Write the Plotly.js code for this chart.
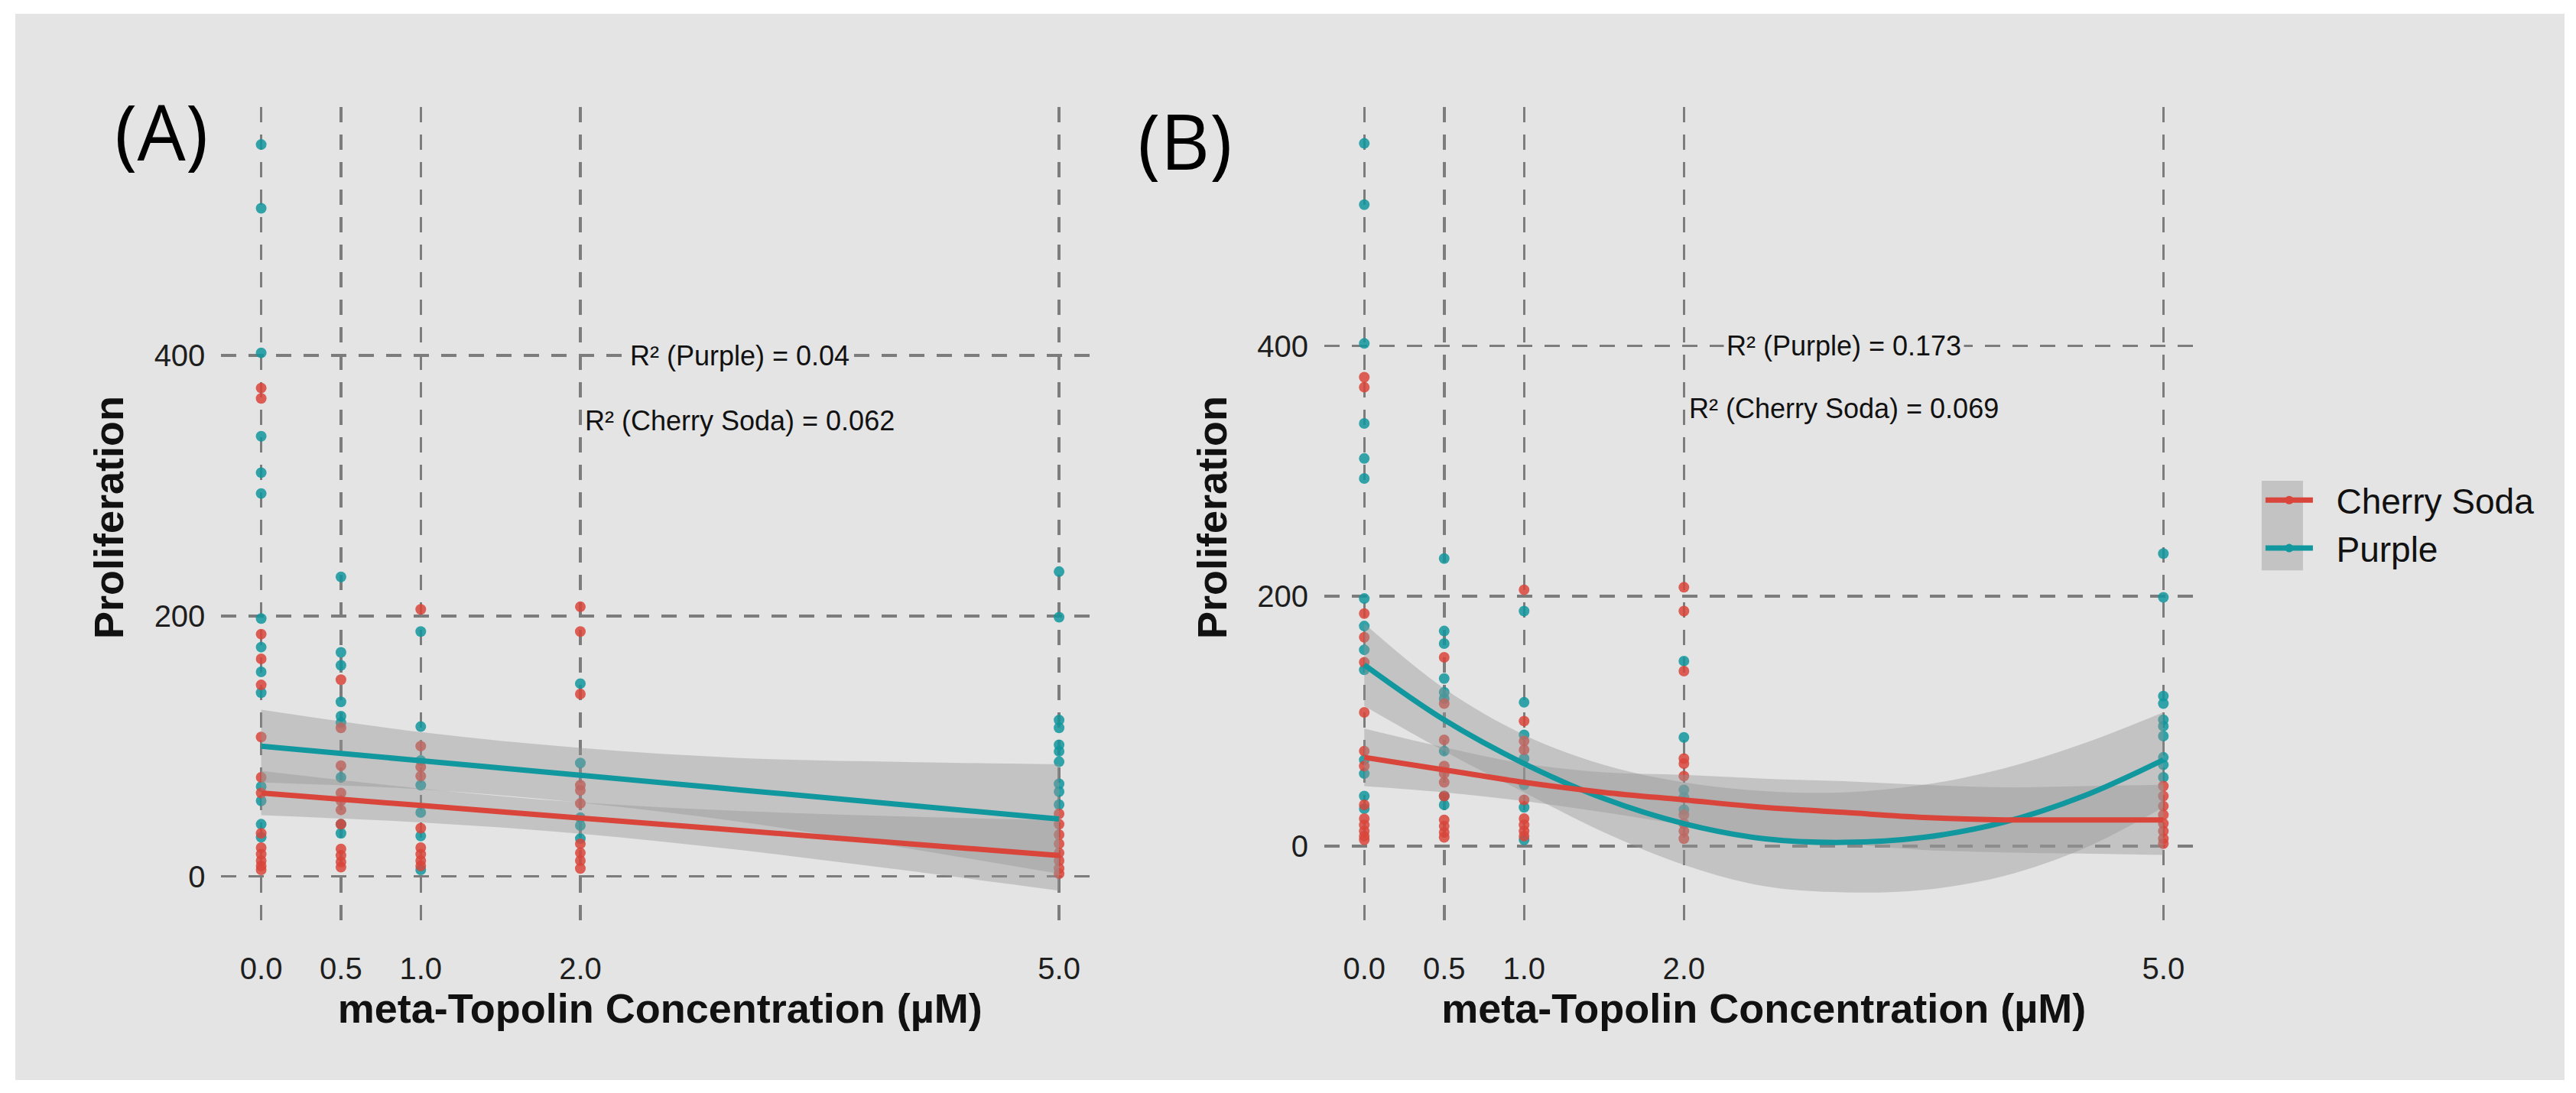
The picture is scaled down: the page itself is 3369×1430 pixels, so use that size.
<!DOCTYPE html>
<html>
<head>
<meta charset="utf-8">
<script src="https://cdn.plot.ly/plotly-3.0.1.min.js"></script>
<style>
  html, body { margin: 0; padding: 0; background: #ffffff; width: 3369px; height: 1430px; overflow: hidden; }
  #chart { position: absolute; left: 20px; top: 18px; width: 3334px; height: 1395px; }
</style>
</head>
<body>
<div id="chart"></div>
<script>
// ---- categories / ticks ----
const xTickVals = [0, 0.5, 1, 2, 5];
const xTickText = ['0.0', '0.5', '1.0', '2.0', '5.0'];
const yTickVals = [0, 200, 400];
const yTickText = ['0', '200', '400'];
const seriesNames = ['Cherry Soda', 'Purple'];

// ---- observed points (Proliferation) per concentration ----
const purple_0   = [562, 513, 402, 338, 310, 294, 198, 176, 157, 141, 69, 58, 40, 30];
const purple_05  = [230, 172, 162, 134, 123, 118, 76, 40, 33];
const purple_1   = [188, 115, 89, 70, 49, 31, 5];
const purple_2   = [148, 87, 45, 39, 29];
const purple_5   = [234, 199, 120, 114, 101, 96, 88, 71, 65, 55];

const cherry_0   = [375, 367, 186, 167, 147, 107, 76, 64, 33, 22, 17, 12, 8, 5];
const cherry_05  = [151, 114, 85, 64, 58, 51, 40, 21, 16, 11, 7];
const cherry_1   = [205, 100, 84, 77, 37, 22, 17, 12, 8];
const cherry_2   = [207, 188, 140, 70, 66, 56, 25, 18, 12, 6];
const cherry_5   = [48, 40, 32, 25, 18, 12, 6, 2];

// ---- fitted curves ----
// Panel A: linear fits
const fitGridA    = [0, 1, 2, 3, 4, 5];
const purpleFitA  = [100, 88.8, 77.6, 66.4, 55.2, 44];
const purpleUpA   = [128, 110.8, 98.6, 90.9, 87.9, 86];
const purpleLoA   = [72, 66.8, 56.6, 41.9, 22.5, 2];
const cherryFitA  = [64, 54.4, 44.8, 35.2, 25.6, 16];
const cherryUpA   = [81, 67.4, 56.8, 50.2, 46.1, 43];
const cherryLoA   = [47, 41.4, 32.8, 20.2, 5.1, -11];

// Panel B: quadratic fits
const fitGridB    = [0, 0.5, 1, 1.5, 2, 2.5, 3, 3.5, 4, 4.5, 5];
const purpleFitB  = [145, 101, 66, 38, 18, 6, 3, 7, 19, 40, 69];
const purpleUpB   = [178, 126, 89, 65, 51, 44, 43, 49, 62, 82, 107];
const purpleLoB   = [112, 76, 43, 11, -15, -32, -37, -35, -24, -2, 31];
const cherryFitB  = [71, 61, 51, 43, 37, 31, 27, 23, 21, 21, 21];
const cherryUpB   = [94, 79, 66, 59, 57, 54, 52, 49, 47, 48, 49];
const cherryLoB   = [48, 43, 36, 27, 17, 8, 2, -3, -5, -6, -7];

// ---- annotation texts ----
const r2A = ['R² (Purple) = 0.04', 'R² (Cherry Soda) = 0.062'];
const r2B = ['R² (Purple) = 0.173', 'R² (Cherry Soda) = 0.069'];
const r2Pos = { x: 3, yPurple: 400, yCherry: 350 };

// ---- styles ----
const RED = '#d9453b';
const TEAL = '#11979e';
const RIBBON = 'rgba(150,150,150,0.42)';
const BG = '#e4e4e4';
const FONT = 'Liberation Sans, Arial, sans-serif';
const LEGEND_GAP = '\u00A0\u00A0';

function flatten(levels, groups) {
  const xs = [], ys = [];
  groups.forEach((g, i) => g.forEach(v => { xs.push(levels[i]); ys.push(v); }));
  return { x: xs, y: ys };
}
const purplePts = flatten(xTickVals, [purple_0, purple_05, purple_1, purple_2, purple_5]);
const cherryPts = flatten(xTickVals, [cherry_0, cherry_05, cherry_1, cherry_2, cherry_5]);

function points(pts, color, xa, ya) {
  return { type: 'scatter', mode: 'markers', x: pts.x, y: pts.y, xaxis: xa, yaxis: ya,
    marker: { color: color, size: 14, opacity: 0.85, line: { width: 0 } },
    showlegend: false, hoverinfo: 'skip' };
}
function ribbon(grid, lo, up, xa, ya) {
  return [
    { type: 'scatter', mode: 'lines', x: grid, y: lo, xaxis: xa, yaxis: ya,
      line: { width: 0, shape: 'spline' }, showlegend: false, hoverinfo: 'skip' },
    { type: 'scatter', mode: 'lines', x: grid, y: up, xaxis: xa, yaxis: ya,
      line: { width: 0, shape: 'spline' }, fill: 'tonexty', fillcolor: RIBBON,
      showlegend: false, hoverinfo: 'skip' }
  ];
}
function fitLine(grid, fit, color, xa, ya) {
  return { type: 'scatter', mode: 'lines', x: grid, y: fit, xaxis: xa, yaxis: ya,
    line: { color: color, width: 7, shape: 'spline' }, showlegend: false, hoverinfo: 'skip' };
}

const traces = [
  points(purplePts, TEAL, 'x', 'y'),
  points(cherryPts, RED, 'x', 'y'),
  points(purplePts, TEAL, 'x2', 'y2'),
  points(cherryPts, RED, 'x2', 'y2'),
  ...ribbon(fitGridA, purpleLoA, purpleUpA, 'x', 'y'),
  ...ribbon(fitGridA, cherryLoA, cherryUpA, 'x', 'y'),
  ...ribbon(fitGridB, purpleLoB, purpleUpB, 'x2', 'y2'),
  ...ribbon(fitGridB, cherryLoB, cherryUpB, 'x2', 'y2'),
  fitLine(fitGridA, purpleFitA, TEAL, 'x', 'y'),
  fitLine(fitGridA, cherryFitA, RED, 'x', 'y'),
  fitLine(fitGridB, purpleFitB, TEAL, 'x2', 'y2'),
  fitLine(fitGridB, cherryFitB, RED, 'x2', 'y2'),
  // legend entries
  { type: 'scatter', mode: 'lines+markers', x: [null], y: [null], xaxis: 'x2', yaxis: 'y2',
    name: LEGEND_GAP + seriesNames[0], legendrank: 1, line: { color: RED, width: 7 }, marker: { color: RED, size: 11 } },
  { type: 'scatter', mode: 'lines+markers', x: [null], y: [null], xaxis: 'x2', yaxis: 'y2',
    name: LEGEND_GAP + seriesNames[1], legendrank: 2, line: { color: TEAL, width: 7 }, marker: { color: TEAL, size: 11 } }
];

const gridStyle = { showgrid: true, gridcolor: '#7c7c7c', gridwidth: 3.5, griddash: '20px,16px',
  zeroline: false, showline: false, ticks: '', ticklen: 0 };
const tickFont = { family: FONT, size: 40, color: '#1e1e1e' };
const titleFont = { family: FONT, size: 54, color: '#111111', weight: 'bold' };

function xAxis(domain, anchor) {
  return Object.assign({}, gridStyle, { domain: domain, anchor: anchor, range: [-0.25, 5.25],
    tickmode: 'array', tickvals: xTickVals, ticktext: xTickText, tickfont: tickFont,
    ticklabelstandoff: 26,
    title: { text: 'meta-Topolin Concentration (µM)', font: titleFont, standoff: 2 } });
}
function yAxis(domain, anchor, range) {
  return Object.assign({}, gridStyle, { domain: domain, anchor: anchor, range: range,
    tickmode: 'array', tickvals: yTickVals, ticktext: yTickText, tickfont: tickFont,
    ticklabelstandoff: 20,
    title: { text: 'Proliferation', font: titleFont, standoff: 22 } });
}

const yDom = [0.1423, 0.9129];
const annFont = { family: FONT, size: 36, color: '#111111' };
function r2Ann(xref, yref, text, y) {
  return { xref: xref, yref: yref, x: r2Pos.x, y: y, text: text, showarrow: false,
    font: annFont, bgcolor: BG, borderpad: 3, xanchor: 'center', yanchor: 'middle' };
}

const layout = {
  width: 3334, height: 1395,
  margin: { l: 0, r: 0, t: 0, b: 0 },
  paper_bgcolor: BG, plot_bgcolor: BG,
  font: { family: FONT },
  xaxis: xAxis([0.0808, 0.4251], 'y'),
  yaxis: yAxis(yDom, 'x', [-39.9, 591.1]),
  xaxis2: xAxis([0.5135, 0.8583], 'y2'),
  yaxis2: yAxis(yDom, 'x2', [-65.7, 591.4]),
  showlegend: true,
  legend: { x: 0.8812, y: 0.5700, xanchor: 'left', yanchor: 'top', bgcolor: 'rgba(0,0,0,0)',
    traceorder: 'normal',
    font: { family: FONT, size: 46, color: '#111111' }, itemwidth: 62, tracegroupgap: 0 },
  shapes: [
    { type: 'rect', xref: 'paper', yref: 'paper', x0: 0.8812, x1: 0.8974, y0: 0.4780, y1: 0.5620,
      fillcolor: RIBBON, line: { width: 0 }, layer: 'below' }
  ],
  annotations: [
    { xref: 'paper', yref: 'paper', x: 0.0573, y: 0.8903, text: '(A)', showarrow: false,
      font: { family: 'Open Sans, Noto Sans, sans-serif', size: 100, color: '#000000' }, xanchor: 'center', yanchor: 'middle' },
    { xref: 'paper', yref: 'paper', x: 0.4589, y: 0.8817, text: '(B)', showarrow: false,
      font: { family: 'Open Sans, Noto Sans, sans-serif', size: 100, color: '#000000' }, xanchor: 'center', yanchor: 'middle' },
    r2Ann('x', 'y', r2A[0], r2Pos.yPurple),
    r2Ann('x', 'y', r2A[1], r2Pos.yCherry),
    r2Ann('x2', 'y2', r2B[0], r2Pos.yPurple),
    r2Ann('x2', 'y2', r2B[1], r2Pos.yCherry)
  ]
};

Plotly.newPlot('chart', traces, layout, { staticPlot: true, displayModeBar: false });
</script>
</body>
</html>
